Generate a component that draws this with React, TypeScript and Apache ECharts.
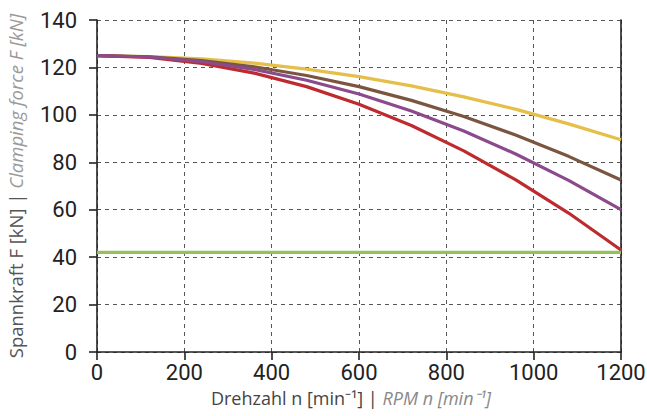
import React, { useEffect, useRef } from "react";
import * as echarts from "echarts";

const rpm = [0, 120, 240, 360, 480, 600, 720, 840, 960, 1080, 1200];
const yellow = [125, 124.6, 123.6, 121.8, 119.3, 116.1, 112.2, 107.6, 102.3, 96.2, 89.5];
const brown = [125, 124.5, 122.9, 120.3, 116.6, 111.9, 106.1, 99.3, 91.4, 82.5, 72.5];
const purple = [125, 124.4, 122.4, 119.2, 114.6, 108.8, 101.6, 93.2, 83.4, 72.4, 60];
const red = [125, 124.2, 121.7, 117.6, 111.9, 104.5, 95.5, 84.8, 72.5, 58.6, 43];
const green = [42, 42, 42, 42, 42, 42, 42, 42, 42, 42, 42];

const FONT = "Roboto";
const NFONT = "Open Sans";

export default function App() {
  const ref = useRef<HTMLDivElement>(null);
  useEffect(() => {
    if (!ref.current) return;
    const chart = echarts.init(ref.current, null, { renderer: "svg" });
    const mk = (name: string, vals: number[], color: string) => ({
      name,
      type: "line",
      data: rpm.map((r, i) => [r, vals[i]]),
      showSymbol: false,
      smooth: false,
      lineStyle: { color, width: 3.2 },
      itemStyle: { color },
      z: 3,
    });
    chart.setOption({
      animation: false,
      grid: { left: 97, right: 26, top: 20, bottom: 64, containLabel: false, outerBoundsMode: "none" },
      xAxis: {
        type: "value",
        min: 0,
        max: 1200,
        interval: 200,
        name: "{a|Drehzahl n [min⁻¹] | }{b|RPM n [min⁻¹]}",
        nameLocation: "middle",
        nameGap: 37,
        nameMoveOverlap: false,
        nameTextStyle: {
          padding: [0, 16, 0, 0],
          rich: {
            a: { fontFamily: NFONT, fontSize: 18, color: "#444" },
            b: { fontFamily: NFONT, fontSize: 18, color: "#888", fontStyle: "italic" },
          },
        },
        axisLine: { show: true, lineStyle: { color: "#222", width: 1.6 } },
        axisTick: { show: true, inside: false, length: 8, lineStyle: { color: "#222", width: 1.6 } },
        axisLabel: { fontFamily: FONT, fontSize: 22, color: "#222", margin: 9, formatter: (v: number) => String(v) },
        splitLine: { show: true, lineStyle: { color: "#555", type: [4, 4], width: 1 } },
      },
      yAxis: [
        {
          type: "value",
          min: 0,
          max: 140,
          interval: 20,
          name: "{a|Spannkraft F [kN] | }{b|Clamping force F [kN]}",
          nameLocation: "middle",
          nameGap: 72,
          nameMoveOverlap: false,
          nameTextStyle: {
            padding: [0, 0, 0, 0],
            rich: {
              a: { fontFamily: NFONT, fontSize: 18.5, color: "#555" },
              b: { fontFamily: NFONT, fontSize: 18.5, color: "#999", fontStyle: "italic" },
            },
          },
          axisLine: { show: true, lineStyle: { color: "#222", width: 1.6 } },
          axisTick: { show: true, inside: false, length: 8, lineStyle: { color: "#222", width: 1.6 } },
          axisLabel: { fontFamily: FONT, fontSize: 22, color: "#222", margin: 20 },
          splitLine: { show: true, lineStyle: { color: "#555", type: [4, 4], width: 1 } },
        },
        {
          type: "value",
          min: 0,
          max: 140,
          interval: 20,
          position: "right",
          axisLine: { show: true, onZero: false, lineStyle: { color: "#222", width: 1.6 } },
          axisTick: { show: false },
          axisLabel: { show: false },
          splitLine: { show: false },
        },
      ],
      series: [
        mk("green", green, "#95C15A"),
        mk("yellow", yellow, "#E6BE4A"),
        mk("brown", brown, "#7A5640"),
        mk("red", red, "#BE2B2F"),
        mk("purple", purple, "#8B4A8C"),
      ],
    });
    return () => chart.dispose();
  }, []);
  return (
    <div
      ref={ref}
      style={{ position: "absolute", left: 0, top: 0, width: 647, height: 416 }}
    />
  );
}
